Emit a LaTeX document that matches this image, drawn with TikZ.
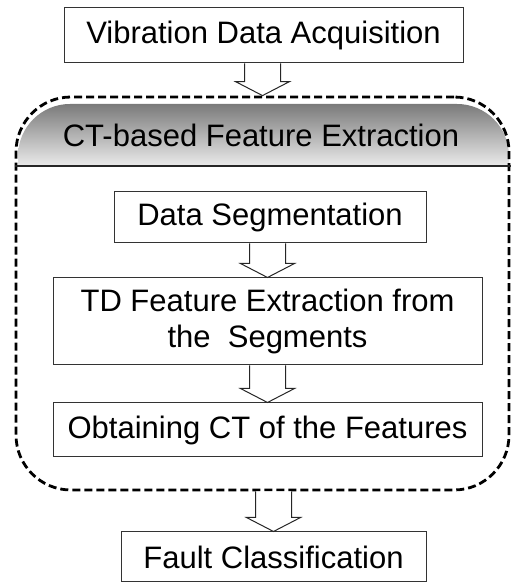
\documentclass[tikz,border=0pt]{standalone}
\usepackage{fontspec}
\setmainfont{Liberation Sans}
\usetikzlibrary{calc}

\newcommand{\hollowarrow}[2]{%
  \draw[arrowline] ($(#1.south -| #2.north)+(-18,0)$) -- ($(#2.north)+(-18,14)$)
    -- ($(#2.north)+(-27,14)$) -- (#2.north) -- ($(#2.north)+(27,14)$)
    -- ($(#2.north)+(18,14)$) -- ($(#1.south -| #2.north)+(18,0)$);}

\begin{document}
\begin{tikzpicture}[x=1pt,y=1pt,
    stepbox/.style={draw=black!80,line width=1pt,fill=white,inner sep=0pt,align=center,
      font=\fontsize{31}{36}\selectfont},
    arrowline/.style={draw=black!85,line width=1pt,fill=white,line join=miter},
    groupbox/.style={draw=black,dashed,dash pattern=on 8pt off 4pt,line width=2.8pt,
      rounded corners=55pt,inner sep=0pt}]
    \useasboundingbox (0,0) rectangle (511,583);
    % Header band
    \shade[top color=black!52,bottom color=black!8]
      (18,417) -- (18,427) arc[start angle=180,end angle=90,radius=52]
      -- (457,479) arc[start angle=90,end angle=0,radius=52] -- (509,417) -- cycle;
    % Nodes
    \node[groupbox,minimum width=493,minimum height=393] (ctbox) at (262.5,289.5) {};
    \node[font=\fontsize{31}{36}\selectfont] (head) at (261,448) {CT-based Feature Extraction};
    \node[stepbox,minimum width=399,minimum height=55] (acq) at (263.5,547.5) {Vibration Data Acquisition};
    \node[stepbox,minimum width=312,minimum height=51] (seg) at (270,365.5) {Data Segmentation};
    \node[stepbox,minimum width=429,minimum height=87] (tdfeat) at (267.5,261.5) {TD Feature Extraction from\\the\ \ Segments};
    \node[stepbox,minimum width=429,minimum height=54] (ctfeat) at (267.5,153) {Obtaining CT of the Features};
    \node[stepbox,minimum width=305,minimum height=50] (fault) at (273.5,26) {Fault Classification};
    % Drawing
    \draw[black!85,line width=1.2pt] (ctbox.west |- 0,417) -- (511,417);
    \hollowarrow{acq}{ctbox}
    \hollowarrow{seg}{tdfeat}
    \hollowarrow{tdfeat}{ctfeat}
    \hollowarrow{ctbox}{fault}
\end{tikzpicture}
\end{document}
